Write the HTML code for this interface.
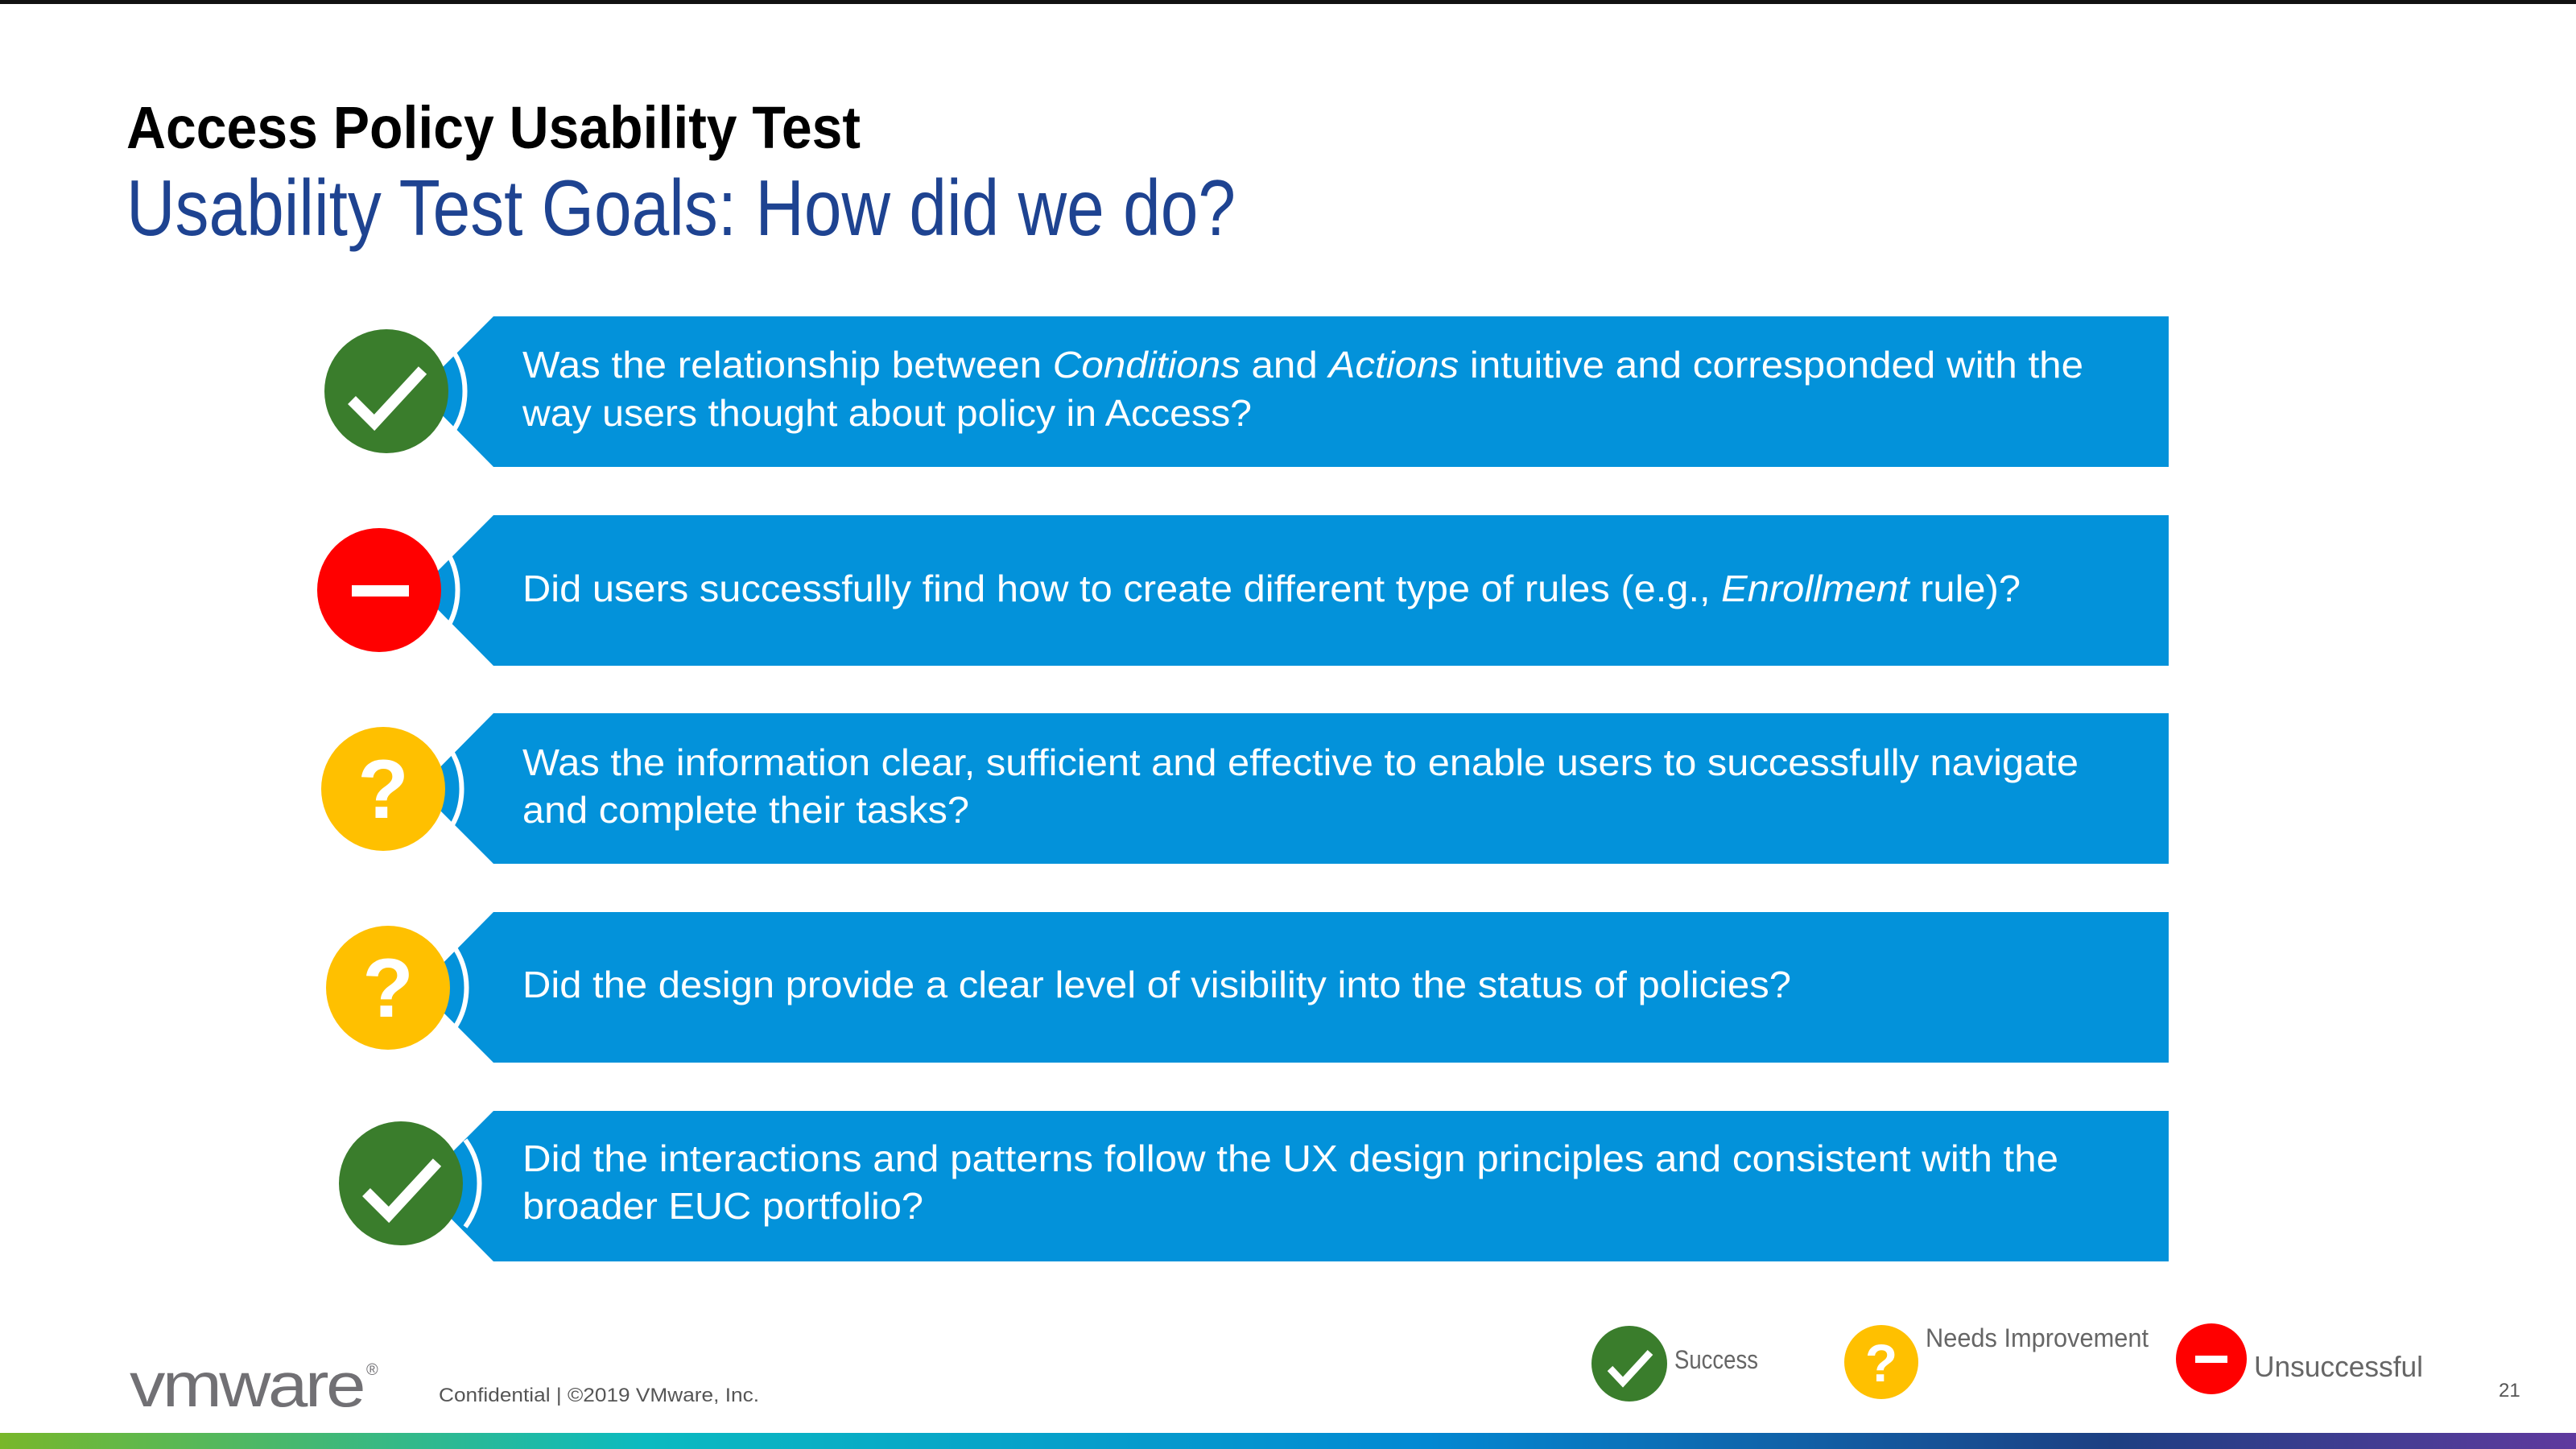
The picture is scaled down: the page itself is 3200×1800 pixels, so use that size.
<!DOCTYPE html>
<html><head><meta charset="utf-8"><style>
html,body{margin:0;padding:0;background:#fff;}
svg{display:block;}
text{font-family:"Liberation Sans",sans-serif;}
</style></head><body>
<svg width="3200" height="1800" viewBox="0 0 3200 1800" xmlns="http://www.w3.org/2000/svg">
<defs>
<linearGradient id="bar" x1="0" x2="1" y1="0" y2="0">
<stop offset="0" stop-color="#78b72a"/>
<stop offset="0.25" stop-color="#0bbac0"/>
<stop offset="0.55" stop-color="#0289d3"/>
<stop offset="0.82" stop-color="#1d3f82"/>
<stop offset="1" stop-color="#5f3a9e"/>
</linearGradient>
</defs>
<rect x="0" y="0" width="3200" height="5" fill="#111"/>
<text x="157" y="184" font-size="74" font-weight="bold" fill="#000" textLength="912" lengthAdjust="spacingAndGlyphs">Access Policy Usability Test</text>
<text x="157" y="292" font-size="98" fill="#1e4391" textLength="1378" lengthAdjust="spacingAndGlyphs">Usability Test Goals: How did we do?</text>

<g fill="#0392da">
<polygon points="613,393 2694,393 2694,580 613,580 520,486"/>
<polygon points="613,640 2694,640 2694,827 613,827 520,733"/>
<polygon points="613,886 2694,886 2694,1073 613,1073 520,980"/>
<polygon points="613,1133 2694,1133 2694,1320 613,1320 520,1227"/>
<polygon points="613,1380 2694,1380 2694,1567 613,1567 520,1473"/>
</g>
<g fill="none" stroke="#fff" stroke-width="6">
<path d="M 560 432 A 92 92 0 0 1 560 540"/>
<path d="M 551 679 A 92 92 0 0 1 551 787"/>
<path d="M 556 926 A 92 92 0 0 1 556 1034"/>
<path d="M 562 1173 A 92 92 0 0 1 562 1281"/>
<path d="M 578 1416 A 92 92 0 0 1 578 1524"/>
</g>
<circle cx="480" cy="486" r="77" fill="#3a7d2c"/>
<polyline points="437,497 465,525 525,460" fill="none" stroke="#fff" stroke-width="14"/>
<circle cx="471" cy="733" r="77" fill="#ff0000"/>
<rect x="437" y="727" width="71" height="14" fill="#fff"/>
<circle cx="476" cy="980" r="77" fill="#ffc000"/>
<text x="476" y="1016" font-size="104" font-weight="bold" fill="#fff" text-anchor="middle">?</text>
<circle cx="482" cy="1227" r="77" fill="#ffc000"/>
<text x="482" y="1263" font-size="104" font-weight="bold" fill="#fff" text-anchor="middle">?</text>
<circle cx="498" cy="1470" r="77" fill="#3a7d2c"/>
<polyline points="455,1481 483,1509 543,1444" fill="none" stroke="#fff" stroke-width="14"/>

<g fill="#fff" font-size="46">
<text x="649" y="469" textLength="1939" lengthAdjust="spacingAndGlyphs">Was the relationship between <tspan font-style="italic">Conditions</tspan> and <tspan font-style="italic">Actions</tspan> intuitive and corresponded with the</text>
<text x="649" y="529" textLength="906" lengthAdjust="spacingAndGlyphs">way users thought about policy in Access?</text>
<text x="649" y="747" textLength="1861" lengthAdjust="spacingAndGlyphs">Did users successfully find how to create different type of rules (e.g., <tspan font-style="italic">Enrollment</tspan> rule)?</text>
<text x="649" y="963" textLength="1933" lengthAdjust="spacingAndGlyphs">Was the information clear, sufficient and effective to enable users to successfully navigate</text>
<text x="649" y="1022" textLength="555" lengthAdjust="spacingAndGlyphs">and complete their tasks?</text>
<text x="649" y="1239" textLength="1576" lengthAdjust="spacingAndGlyphs">Did the design provide a clear level of visibility into the status of policies?</text>
<text x="649" y="1455" textLength="1908" lengthAdjust="spacingAndGlyphs">Did the interactions and patterns follow the UX design principles and consistent with the</text>
<text x="649" y="1514" textLength="498" lengthAdjust="spacingAndGlyphs">broader EUC portfolio?</text>
</g>

<text x="161" y="1747" font-size="78" fill="#717074" textLength="290" lengthAdjust="spacingAndGlyphs" letter-spacing="-3">vmware</text>
<text x="455" y="1708" font-size="20" fill="#717074">®</text>
<text x="545" y="1741" font-size="24" fill="#555" textLength="398" lengthAdjust="spacingAndGlyphs">Confidential   |  ©2019 VMware, Inc.</text>

<circle cx="2024" cy="1694" r="47" fill="#3a7d2c"/>
<polyline points="2000,1700 2016,1717 2050,1680" fill="none" stroke="#fff" stroke-width="9"/>
<text x="2080" y="1700" font-size="32" fill="#666" textLength="104" lengthAdjust="spacingAndGlyphs">Success</text>
<circle cx="2337" cy="1692" r="46" fill="#ffc000"/>
<text x="2337" y="1716" font-size="66" font-weight="bold" fill="#fff" text-anchor="middle">?</text>
<text x="2392" y="1673" font-size="32" fill="#666" textLength="277" lengthAdjust="spacingAndGlyphs">Needs Improvement</text>
<circle cx="2747" cy="1688" r="44" fill="#ff0000"/>
<rect x="2727" y="1684" width="40" height="9" fill="#fff"/>
<text x="2800" y="1710" font-size="36" fill="#666" textLength="210" lengthAdjust="spacingAndGlyphs">Unsuccessful</text>
<text x="3104" y="1735" font-size="24" fill="#555">21</text>

<rect x="0" y="1780" width="3200" height="20" fill="url(#bar)"/>
</svg>
</body></html>
